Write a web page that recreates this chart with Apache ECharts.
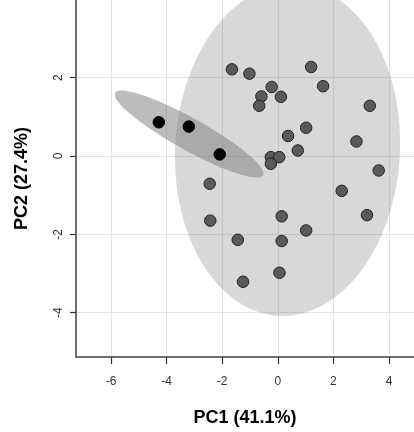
<!DOCTYPE html>
<html>
<head>
<meta charset="utf-8">
<script src="https://cdn.jsdelivr.net/npm/echarts@6/dist/echarts.min.js"></script>
<style>
  html, body { margin: 0; padding: 0; background: #fff; }
  #pca { width: 414px; height: 432px; }
</style>
</head>
<body>
<div id="pca"></div>
<script>
// group 1 (grey points)
const pc1Grey = [-1.65, -1.02, 1.20, 1.63, -0.22, -0.59, 0.11, -0.67, 3.31, 1.02, 0.37, 2.83, 0.72,
  -0.25, 0.05, -0.25, 3.63, -2.45, 2.30, -2.43, 0.14, 3.21, 1.02, -1.44, 0.14, 0.06, -1.25];
const pc2Grey = [2.21, 2.10, 2.27, 1.78, 1.76, 1.52, 1.51, 1.28, 1.28, 0.72, 0.51, 0.37, 0.14,
  -0.03, -0.03, -0.20, -0.37, -0.71, -0.89, -1.65, -1.54, -1.51, -1.90, -2.14, -2.17, -2.98, -3.21];
// group 2 (black points)
const pc1Black = [-4.28, -3.20, -2.09];
const pc2Black = [0.86, 0.75, 0.04];

// ellipses: centre + two conjugate half-axis vectors (data units)
const ellCenter = [[0.35, 0.15], [-3.19, 0.56]];
const ellU = [[4.05, 0.18], [2.66, -1.05]];
const ellV = [[0, 4.226], [0.279, 0.357]];
const ellColor = ['rgba(127,127,127,0.30)', 'rgba(127,127,127,0.52)'];

const xTicks = [-6, -4, -2, 0, 2, 4];
const yTicks = [-4, -2, 0, 2];

const zip = (a, b) => a.map((v, i) => [v, b[i]]);

let chart = echarts.init(document.getElementById('pca'));

chart.setOption({
  animation: false,
  textStyle: { fontFamily: 'Liberation Sans, Arial, sans-serif' },
  grid: { left: 76, right: 0, top: 0, bottom: 75 },
  xAxis: {
    type: 'value',
    min: -7.26,
    max: 4.9,
    name: 'PC1 (41.1%)',
    nameLocation: 'middle',
    nameGap: 52,
    nameTextStyle: { fontSize: 18, fontWeight: 'bold', color: '#000' },
    axisLine: { show: true, onZero: false, lineStyle: { color: '#6e6e6e', width: 2 } },
    axisTick: { show: true, customValues: xTicks, length: 7, lineStyle: { color: '#333', width: 1.2 } },
    axisLabel: { customValues: xTicks, fontSize: 12, color: '#333', margin: 19 },
    splitLine: { show: true, lineStyle: { color: '#e2e2e2', width: 1 } }
  },
  yAxis: {
    type: 'value',
    min: -5.13,
    max: 3.98,
    name: 'PC2 (27.4%)',
    nameLocation: 'middle',
    nameGap: 45,
    nameTextStyle: { fontSize: 18, fontWeight: 'bold', color: '#000' },
    axisLine: { show: true, onZero: false, lineStyle: { color: '#6e6e6e', width: 2 } },
    axisTick: { show: true, customValues: yTicks, length: 6, lineStyle: { color: '#333', width: 1.2 } },
    axisLabel: { customValues: yTicks, fontSize: 12, color: '#333', margin: 11, rotate: 90 },
    splitLine: { show: true, lineStyle: { color: '#e2e2e2', width: 1 } }
  },
  series: [
    {
      type: 'custom',
      clip: true,
      data: ellCenter.map((c, i) => [c[0], c[1], i]),
      renderItem: function (params, api) {
        const i = api.value(2);
        const c = ellCenter[i], u = ellU[i], v = ellV[i];
        const pts = [];
        for (let k = 0; k < 120; k++) {
          const t = (k / 120) * Math.PI * 2;
          pts.push(api.coord([
            c[0] + u[0] * Math.cos(t) + v[0] * Math.sin(t),
            c[1] + u[1] * Math.cos(t) + v[1] * Math.sin(t)
          ]));
        }
        return {
          type: 'polygon',
          shape: { points: pts, smooth: 0 },
          style: { fill: ellColor[i], stroke: null }
        };
      },
      z: 1
    },
    {
      type: 'scatter',
      data: zip(pc1Grey, pc2Grey),
      symbolSize: 11.5,
      itemStyle: { color: '#5a5a5a', borderColor: '#222', borderWidth: 1, opacity: 1 },
      z: 3
    },
    {
      type: 'scatter',
      data: zip(pc1Black, pc2Black),
      symbolSize: 11.5,
      itemStyle: { color: '#000', borderColor: '#000', borderWidth: 1, opacity: 1 },
      z: 4
    }
  ]
});
</script>
</body>
</html>
